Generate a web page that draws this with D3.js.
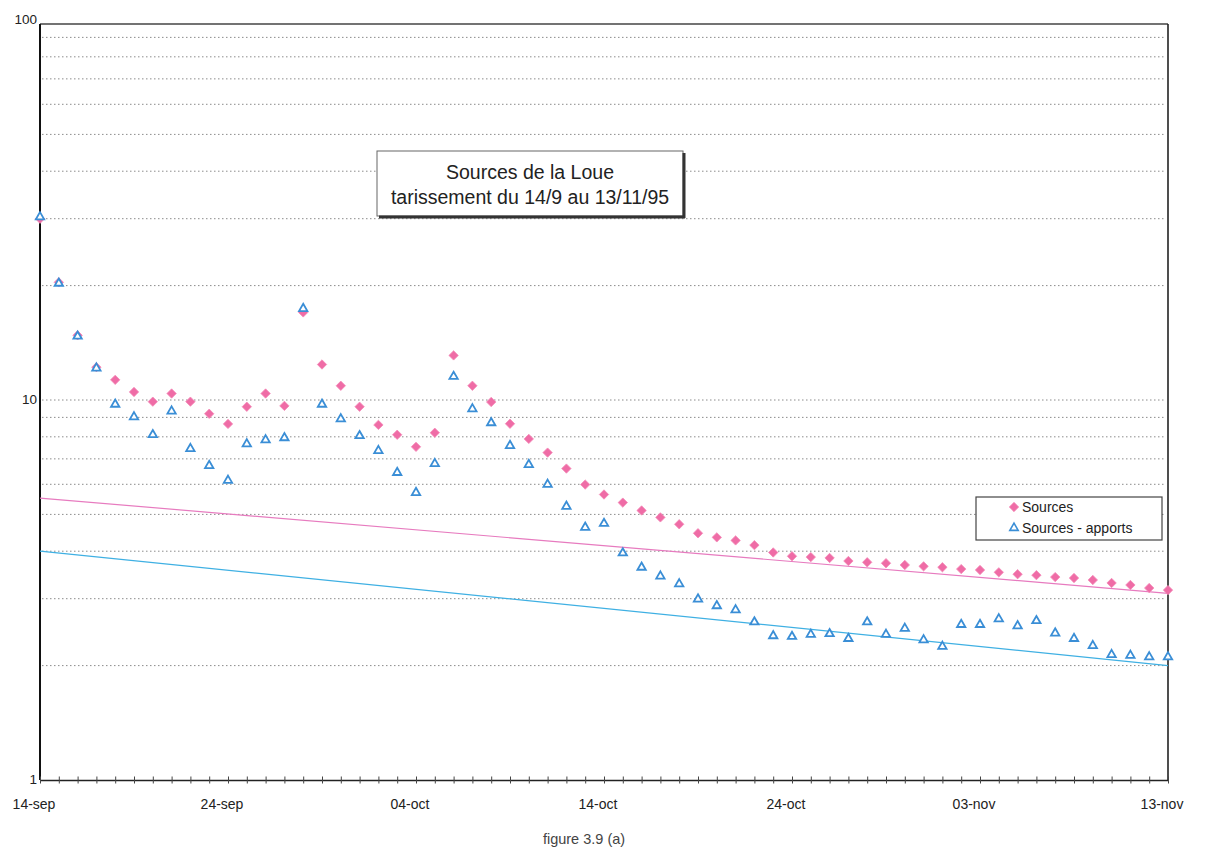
<!DOCTYPE html>
<html>
<head>
<meta charset="utf-8">
<script src="https://cdn.jsdelivr.net/npm/d3@7"></script>
<style>
  html, body { margin: 0; padding: 0; background: #fff; }
  svg { display: block; font-family: "Liberation Sans", Arial, sans-serif; }
</style>
</head>
<body>
<svg id="chart" width="1208" height="854"></svg>
<script>
// ---- data ----
const startDate = "1995-09-14";
const endDate = "1995-11-13";
const sources = [30, 20.4, 14.8, 12.2, 11.3, 10.5, 9.9, 10.4, 9.9, 9.2,
  8.65, 9.6, 10.4, 9.65, 17.0, 12.4, 10.9, 9.6, 8.6, 8.1,
  7.53, 8.2, 13.1, 10.9, 9.88, 8.66, 7.9, 7.27, 6.6, 5.99,
  5.64, 5.37, 5.12, 4.91, 4.71, 4.46, 4.35, 4.27, 4.15, 3.97,
  3.88, 3.86, 3.84, 3.77, 3.74, 3.72, 3.68, 3.65, 3.63, 3.59,
  3.57, 3.52, 3.48, 3.46, 3.42, 3.40, 3.36, 3.30, 3.26, 3.20, 3.16];
const sourcesApports = [30.5, 20.4, 14.8, 12.2, 9.8, 9.08, 8.15, 9.4, 7.49, 6.76,
  6.18, 7.71, 7.9, 8.0, 17.5, 9.8, 8.97, 8.1, 7.4, 6.48,
  5.74, 6.84, 11.6, 9.53, 8.76, 7.63, 6.8, 6.03, 5.28, 4.65,
  4.76, 3.98, 3.65, 3.46, 3.30, 3.01, 2.89, 2.82, 2.62, 2.41,
  2.40, 2.43, 2.44, 2.37, 2.62, 2.43, 2.52, 2.35, 2.26, 2.58,
  2.58, 2.67, 2.56, 2.64, 2.45, 2.37, 2.27, 2.15, 2.14, 2.12, 2.12];
const trendSources = [5.52, 3.10];       // exponential trend, start / end
const trendApports = [4.0, 2.0];
const yTickLabels = [1, 10, 100];
const gridValues = [2, 3, 4, 5, 6, 7, 8, 9, 10, 20, 30, 40, 50, 60, 70, 80, 90];
const xTickLabels = ["14-sep", "24-sep", "04-oct", "14-oct", "24-oct", "03-nov", "13-nov"];
const seriesNames = ["Sources", "Sources - apports"];
const titleLines = ["Sources de la Loue", "tarissement du 14/9 au 13/11/95"];
const caption = "figure 3.9 (a)";

// ---- scales ----
const svg = d3.select("#chart");
const parse = d3.utcParse("%Y-%m-%d");
const d0 = parse(startDate), d1 = parse(endDate);
const x = d3.scaleUtc().domain([d0, d1]).range([40, 1168]);
const y = d3.scaleLog().domain([1, 100]).range([780, 20]);
const dayOf = i => d3.utcDay.offset(d0, i);

const pink = "#ef6ca6", blue = "#3a8ed6";

// grid lines
svg.append("g").selectAll("line").data(gridValues).join("line")
  .attr("x1", 42).attr("x2", 1166)
  .attr("y1", d => y(d)).attr("y2", d => y(d))
  .attr("stroke", "#666").attr("stroke-width", 1)
  .attr("stroke-dasharray", "1.5,2.5").attr("opacity", 0.75);

// frame: top + right
svg.append("line").attr("x1", 40).attr("x2", 1168).attr("y1", y(100) + 4).attr("y2", y(100) + 4)
  .attr("stroke", "#444").attr("stroke-width", 1.3);
svg.append("line").attr("x1", 1168).attr("x2", 1168).attr("y1", y(100) + 4).attr("y2", y(1))
  .attr("stroke", "#222").attr("stroke-width", 1.6);

// left axis
svg.append("line").attr("x1", 40).attr("x2", 40).attr("y1", y(100) + 4).attr("y2", y(1))
  .attr("stroke", "#111").attr("stroke-width", 2);
svg.append("g").selectAll("text").data(yTickLabels).join("text")
  .attr("x", 37).attr("y", d => y(d) + 4)
  .attr("text-anchor", "end").attr("font-size", 13.5).attr("fill", "#222")
  .text(d => d);

// bottom axis with daily ticks (crossing the axis line)
const xAxis = d3.axisBottom(x)
  .ticks(d3.utcDay.every(1))
  .tickSizeOuter(0).tickSizeInner(7).tickFormat("");
const gx = svg.append("g").attr("transform", `translate(0,${y(1) - 3.5})`).call(xAxis);
gx.select(".domain").attr("stroke", "#222").attr("stroke-width", 1.3).attr("transform", "translate(0,3.5)");
gx.selectAll(".tick line").attr("stroke", "#444");

svg.append("g").selectAll("text").data(xTickLabels).join("text")
  .attr("x", (d, i) => x(dayOf(i * 10)) - 6)
  .attr("y", 809)
  .attr("text-anchor", "middle").attr("font-size", 14).attr("fill", "#222")
  .text(d => d);

// trend lines
const line = d3.line().x(d => x(d.date)).y(d => y(d.v));
svg.append("path")
  .datum([{ date: d0, v: trendSources[0] }, { date: d1, v: trendSources[1] }])
  .attr("d", line).attr("fill", "none").attr("stroke", "#e77bbf").attr("stroke-width", 1.2);
svg.append("path")
  .datum([{ date: d0, v: trendApports[0] }, { date: d1, v: trendApports[1] }])
  .attr("d", line).attr("fill", "none").attr("stroke", "#3fb0e3").attr("stroke-width", 1.3);

// markers
const diamond = d3.symbol().type(d3.symbolDiamond2).size(56);
const tri = d3.symbol().type(d3.symbolTriangle2).size(50);

svg.append("g").selectAll("path").data(sources).join("path")
  .attr("transform", (d, i) => `translate(${x(dayOf(i))},${y(d)})`)
  .attr("d", diamond).attr("fill", pink).attr("stroke", "#f48ab8").attr("stroke-width", 0.8);

svg.append("g").selectAll("path").data(sourcesApports).join("path")
  .attr("transform", (d, i) => `translate(${x(dayOf(i))},${y(d) + 1})`)
  .attr("d", tri).attr("fill", "#fff").attr("stroke", blue).attr("stroke-width", 1.8);

// title box
const tb = { x: 377, y: 151, w: 306, h: 65 };
svg.append("rect").attr("x", tb.x).attr("y", tb.y).attr("width", tb.w).attr("height", tb.h)
  .attr("fill", "#fff").attr("stroke", "#666").attr("stroke-width", 1);
svg.append("line").attr("x1", tb.x + tb.w + 1).attr("x2", tb.x + tb.w + 1).attr("y1", tb.y + 2).attr("y2", tb.y + tb.h + 2)
  .attr("stroke", "#333").attr("stroke-width", 3);
svg.append("line").attr("x1", tb.x + 2).attr("x2", tb.x + tb.w + 2).attr("y1", tb.y + tb.h + 1).attr("y2", tb.y + tb.h + 1)
  .attr("stroke", "#333").attr("stroke-width", 3);
svg.append("g").selectAll("text").data(titleLines).join("text")
  .attr("x", tb.x + tb.w / 2).attr("y", (d, i) => 179 + i * 25)
  .attr("text-anchor", "middle").attr("font-size", 19.5).attr("fill", "#222")
  .text(d => d);

// legend
const lg = { x: 976, y: 497, w: 186, h: 43 };
svg.append("rect").attr("x", lg.x).attr("y", lg.y).attr("width", lg.w).attr("height", lg.h)
  .attr("fill", "#fff").attr("stroke", "#444").attr("stroke-width", 1.2);
const legItems = svg.append("g").selectAll("g").data(seriesNames).join("g")
  .attr("transform", (d, i) => `translate(${lg.x + 38},${lg.y + 10 + i * 21})`);
legItems.append("path")
  .attr("d", (d, i) => i === 0 ? diamond() : tri())
  .attr("fill", (d, i) => i === 0 ? pink : "#fff")
  .attr("stroke", (d, i) => i === 0 ? "#f48ab8" : blue)
  .attr("stroke-width", (d, i) => i === 0 ? 0.8 : 1.6);
legItems.append("text").attr("x", 8).attr("y", 5)
  .attr("font-size", 14).attr("fill", "#222").text(d => d);

// caption
svg.append("text").attr("x", 584).attr("y", 844).attr("text-anchor", "middle")
  .attr("font-size", 14.5).attr("fill", "#444").text(caption);
</script>
</body>
</html>
